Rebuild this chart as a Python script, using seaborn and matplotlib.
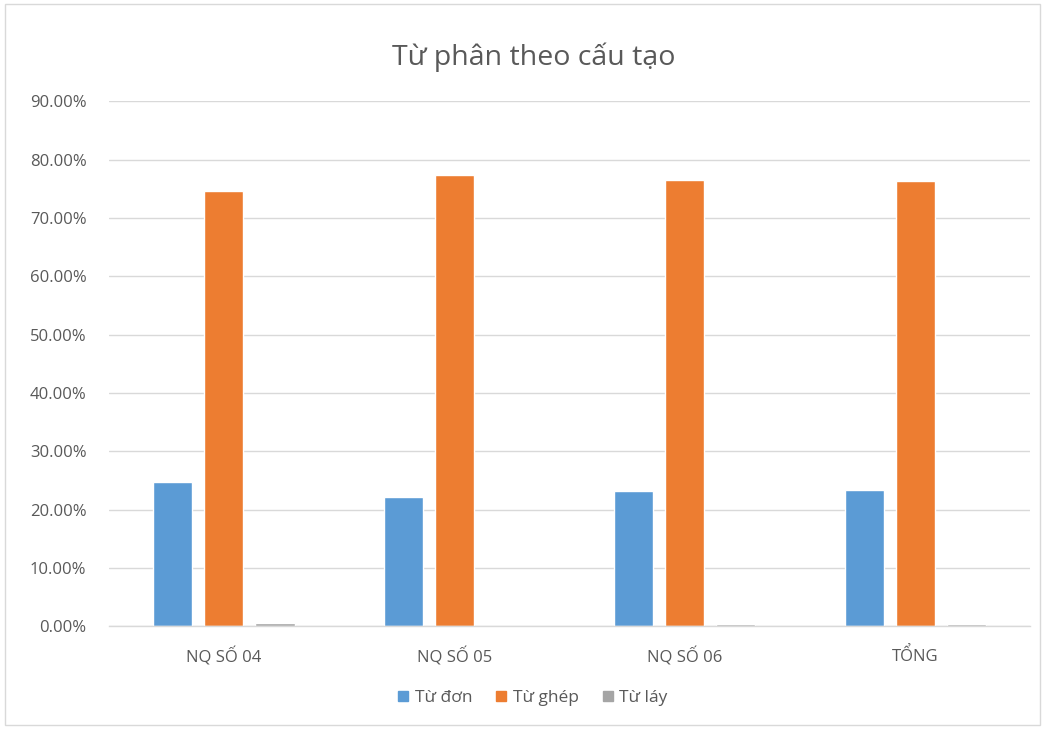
import matplotlib
matplotlib.use("Agg")
import matplotlib.pyplot as plt
import seaborn as sns
import pandas as pd
from matplotlib.ticker import PercentFormatter, MultipleLocator
from matplotlib.patches import Rectangle

categories = ["NQ SỐ 04", "NQ SỐ 05", "NQ SỐ 06", "TỔNG"]
series_names = ["Từ đơn", "Từ ghép", "Từ láy"]
tu_don = [0.247, 0.222, 0.231, 0.233]
tu_ghep = [0.747, 0.774, 0.765, 0.763]
tu_lay = [0.005, 0.0, 0.004, 0.004]
colors = ["#5B9BD5", "#ED7D31", "#A5A5A5"]

rows = []
for vals, name in zip([tu_don, tu_ghep, tu_lay], series_names):
    for c, v in zip(categories, vals):
        rows.append({"cat": c, "series": name, "value": v})
df = pd.DataFrame(rows)

sns.set_theme(style="white")
plt.rcParams['font.family'] = ['Open Sans', 'DejaVu Sans']

fig = plt.figure(figsize=(10.45, 7.29), dpi=100)
ax = fig.add_axes([0.104, 0.141, 0.882, 0.720])

sns.barplot(data=df, x="cat", y="value", hue="series", order=categories,
            hue_order=series_names, palette=colors, width=0.665, gap=0.235,
            saturation=1, ax=ax, legend=False)

ax.set_xlim(-0.5, 3.5)
ax.set_ylim(0, 0.9)
ax.yaxis.set_major_locator(MultipleLocator(0.1))
ax.yaxis.set_major_formatter(PercentFormatter(1.0, decimals=2))
ax.grid(axis="y", color="#D9D9D9", linewidth=1)
ax.set_axisbelow(True)
for s in ["top", "right", "left"]:
    ax.spines[s].set_visible(False)
ax.spines["bottom"].set_color("#D9D9D9")
ax.spines["bottom"].set_linewidth(1)
ax.tick_params(axis="both", length=0, labelsize=12, labelcolor="#595959")
ax.tick_params(axis="x", pad=15)
ax.tick_params(axis="y", pad=16)
ax.set_xlabel("")
ax.set_ylabel("")

fig.text(0.511, 0.922, "Từ phân theo cấu tạo", ha="center", va="center",
         fontsize=20.5, color="#595959")

handles = [Rectangle((0, 0), 1, 1, color=c) for c in colors]
fig.legend(handles, series_names, loc="center", bbox_to_anchor=(0.51, 0.042),
           ncol=3, frameon=False, fontsize=12.5, handlelength=0.55,
           handleheight=0.55, handletextpad=0.4, columnspacing=1.4,
           labelcolor="#595959")

fig.patches.append(Rectangle((0.005, 0.005), 0.99, 0.99, transform=fig.transFigure,
                             fill=False, edgecolor="#D9D9D9", linewidth=1))

fig.savefig("out.png", dpi=100)
